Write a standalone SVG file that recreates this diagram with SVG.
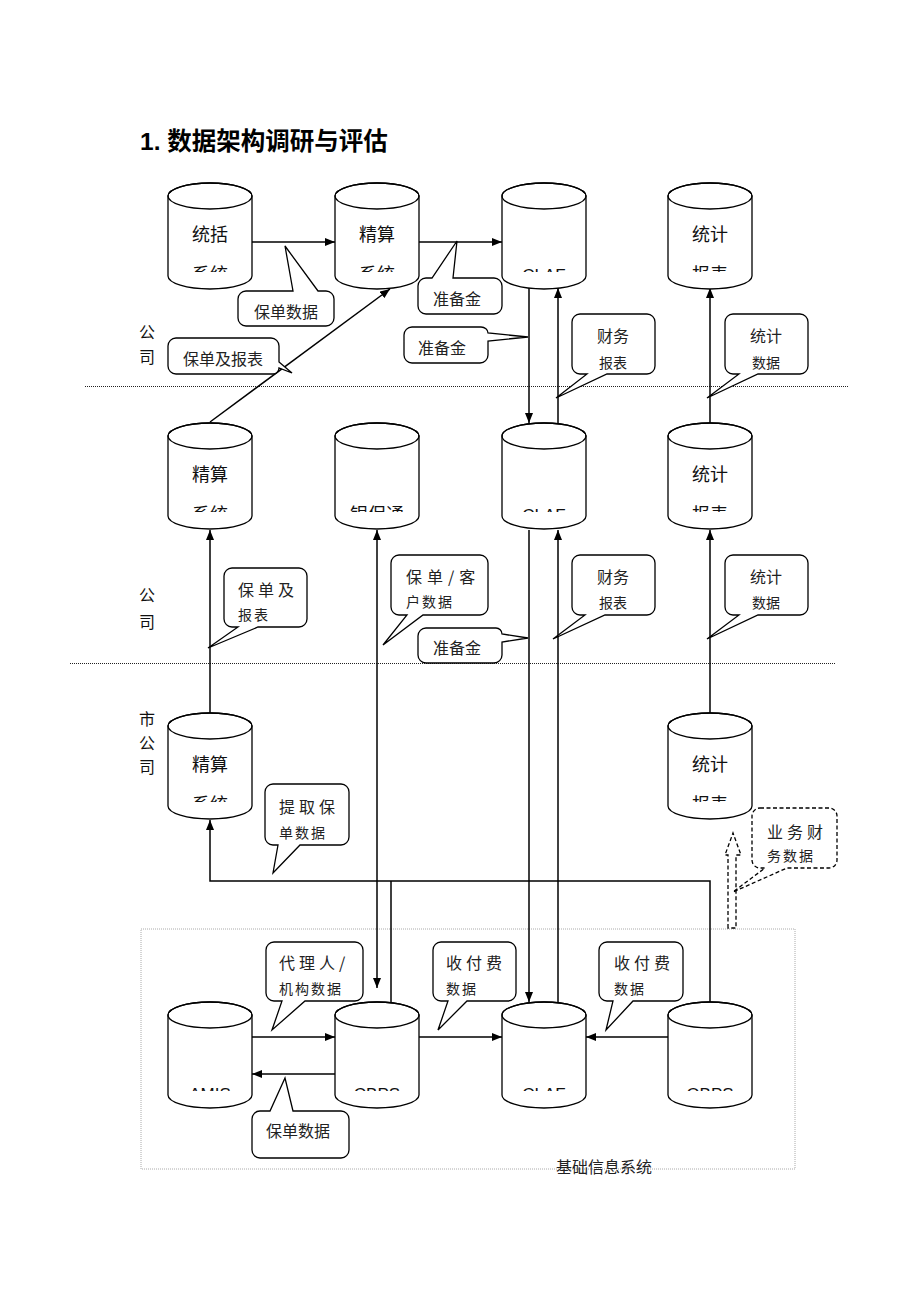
<svg xmlns="http://www.w3.org/2000/svg" width="920" height="1302" viewBox="0 0 920 1302">
<style>
.cyl{fill:#fff;stroke:#000;stroke-width:1.3}
.ctop{fill:none;stroke:#000;stroke-width:1.3}
.nt{font-family:"Noto Sans CJK SC","Liberation Sans",sans-serif;font-size:18px;fill:#111;text-anchor:middle}
.nl{font-family:"Liberation Sans","Noto Sans CJK SC",sans-serif;font-size:17px;fill:#111;text-anchor:middle}
.conn{fill:none;stroke:#000;stroke-width:1.5}
.call{fill:#fff;stroke:#000;stroke-width:1.3}
.calld{fill:#fff;stroke:#000;stroke-width:1.3;stroke-dasharray:4 2.5}
.ct{font-family:"Noto Sans CJK SC",sans-serif;font-size:16px;fill:#222}
.cs{font-family:"Noto Sans CJK SC",sans-serif;font-size:14px;fill:#222}
.mid{text-anchor:middle}
.sp{letter-spacing:4px}
.sp2{letter-spacing:2px}
.side{font-family:"Noto Sans CJK SC",sans-serif;font-size:16px;fill:#111;text-anchor:middle}
.dot{stroke:#222;stroke-width:1;stroke-dasharray:1 1;fill:none}
</style>
<defs>
<marker id="ah" viewBox="0 0 10 8" refX="10" refY="4" markerWidth="10" markerHeight="8" markerUnits="userSpaceOnUse" orient="auto-start-reverse"><path d="M0,0 L10,4 L0,8 Z" fill="#000"/></marker>
<clipPath id="cc" clipPathUnits="userSpaceOnUse"><rect x="-10" y="0" width="110" height="89"/></clipPath>
<g id="cyl"><path class="cyl" d="M0,13 V93 A42,13 0 0 0 84,93 V13 A42,13 0 0 0 0,13 Z"/><ellipse class="ctop" cx="42" cy="13" rx="42" ry="13"/></g>
</defs>
<rect width="920" height="1302" fill="#fff"/>
<text x="140" y="150" font-family="'Liberation Sans','Noto Sans CJK SC',sans-serif" font-size="24.5" font-weight="bold" fill="#000">1. 数据架构调研与评估</text>

<g id="dividers">
<line class="dot" x1="85" y1="386.5" x2="848" y2="386.5"/>
<line class="dot" x1="70" y1="663.5" x2="835" y2="663.5"/>
<rect x="141" y="929" width="654" height="240" fill="none" stroke="#aaa" stroke-width="1" stroke-dasharray="1 1"/>
</g>

<g id="side-labels">
<text class="side" x="147" y="338">公</text><text class="side" x="147" y="363">司</text>
<text class="side" x="147" y="601">公</text><text class="side" x="147" y="628">司</text>
<text class="side" x="147" y="725">市</text><text class="side" x="147" y="749">公</text><text class="side" x="147" y="773">司</text>
<text x="604" y="1173" font-family="'Noto Sans CJK SC',sans-serif" font-size="16" fill="#222" text-anchor="middle">基础信息系统</text>
</g>

<g id="connectors">
<path class="conn" d="M252,242 H335" marker-end="url(#ah)"/>
<path class="conn" d="M419,242 H502" marker-end="url(#ah)"/>
<path class="conn" d="M210,422 L390,289" marker-end="url(#ah)"/>
<path class="conn" d="M529,288 V423" marker-end="url(#ah)"/>
<path class="conn" d="M558,423 V288" marker-end="url(#ah)"/>
<path class="conn" d="M710,423 V288" marker-end="url(#ah)"/>
<path class="conn" d="M210,713 V530" marker-end="url(#ah)"/>
<path class="conn" d="M377,988 V530" marker-start="url(#ah)" marker-end="url(#ah)"/>
<path class="conn" d="M529,530 V1002" marker-end="url(#ah)"/>
<path class="conn" d="M558,1002 V530" marker-end="url(#ah)"/>
<path class="conn" d="M710,713 V530" marker-end="url(#ah)"/>
<path class="conn" d="M391,1002 V881"/>
<path class="conn" d="M710,1002 V881 H210 V820" marker-end="url(#ah)"/>
<path class="conn" d="M252,1037 H335" marker-end="url(#ah)"/>
<path class="conn" d="M335,1074 H252" marker-end="url(#ah)"/>
<path class="conn" d="M419,1037 H502" marker-end="url(#ah)"/>
<path class="conn" d="M668,1037 H586" marker-end="url(#ah)"/>
<path fill="none" stroke="#000" stroke-width="1.3" stroke-dasharray="4 2.5" d="M728,928 V855 H725 L733,833 L741,855 H736 V928 Z"/>
</g>

<g id="n-tongkuo" transform="translate(168,183)"><use href="#cyl"/><text class="nt" x="42" y="58">统括</text><text class="nt" x="42" y="98" font-size="16" clip-path="url(#cc)">系统</text></g>
<g id="n-jingsuan1" transform="translate(335,183)"><use href="#cyl"/><text class="nt" x="42" y="58">精算</text><text class="nt" x="42" y="98" font-size="16" clip-path="url(#cc)">系统</text></g>
<g id="n-claf1" transform="translate(502,183)"><use href="#cyl"/><text class="nl" x="42" y="98" clip-path="url(#cc)">CLAF</text></g>
<g id="n-tongji1" transform="translate(668,183)"><use href="#cyl"/><text class="nt" x="42" y="58">统计</text><text class="nt" x="42" y="98" font-size="16" clip-path="url(#cc)">报表</text></g>

<g id="n-jingsuan2" transform="translate(168,423)"><use href="#cyl"/><text class="nt" x="42" y="58">精算</text><text class="nt" x="42" y="98" font-size="16" clip-path="url(#cc)">系统</text></g>
<g id="n-yinbaotong" transform="translate(335,423)"><use href="#cyl"/><text class="nt" x="42" y="98" font-size="16" clip-path="url(#cc)">银保通</text></g>
<g id="n-claf2" transform="translate(502,423)"><use href="#cyl"/><text class="nl" x="42" y="98" clip-path="url(#cc)">CLAF</text></g>
<g id="n-tongji2" transform="translate(668,423)"><use href="#cyl"/><text class="nt" x="42" y="58">统计</text><text class="nt" x="42" y="98" font-size="16" clip-path="url(#cc)">报表</text></g>

<g id="n-jingsuan3" transform="translate(168,713)"><use href="#cyl"/><text class="nt" x="42" y="58">精算</text><text class="nt" x="42" y="98" font-size="16" clip-path="url(#cc)">系统</text></g>
<g id="n-tongji3" transform="translate(668,713)"><use href="#cyl"/><text class="nt" x="42" y="58">统计</text><text class="nt" x="42" y="98" font-size="16" clip-path="url(#cc)">报表</text></g>

<g id="n-amis" transform="translate(168,1002)"><use href="#cyl"/><text class="nl" x="42" y="98" clip-path="url(#cc)">AMIS</text></g>
<g id="n-cbps" transform="translate(335,1002)"><use href="#cyl"/><text class="nl" x="42" y="98" clip-path="url(#cc)">CBPS</text></g>
<g id="n-claf3" transform="translate(502,1002)"><use href="#cyl"/><text class="nl" x="42" y="98" clip-path="url(#cc)">CLAF</text></g>
<g id="n-obps" transform="translate(668,1002)"><use href="#cyl"/><text class="nl" x="42" y="98" clip-path="url(#cc)">OBPS</text></g>

<g id="cl-1"><path class="call" d="M246,291 H293 L285,246 L318,291 H326 A8,8 0 0 1 334,299 V318 A8,8 0 0 1 326,326 H246 A8,8 0 0 1 238,318 V299 A8,8 0 0 1 246,291 Z"/><text class="ct mid" x="286" y="318">保单数据</text></g>
<g id="cl-2"><path class="call" d="M426,278 H432 L457,241 L453,278 H494 A8,8 0 0 1 502,286 V306 A8,8 0 0 1 494,314 H426 A8,8 0 0 1 418,306 V286 A8,8 0 0 1 426,278 Z"/><text class="ct mid" x="457" y="305">准备金</text></g>
<g id="cl-3"><path class="call" d="M412,327 H481 A7,6 0 0 1 488,333 L528,337 L488,341 V355 A8,8 0 0 1 480,363 H412 A8,8 0 0 1 404,355 V335 A8,8 0 0 1 412,327 Z"/><text class="ct mid" x="442" y="354">准备金</text></g>
<g id="cl-4"><path class="call" d="M176,338 H271 A8,8 0 0 1 279,346 V362 L292,373 L279,368 A6,6 0 0 1 273,374 H176 A8,8 0 0 1 168,366 V346 A8,8 0 0 1 176,338 Z"/><text class="ct mid" x="223" y="365">保单及报表</text></g>
<g id="cl-5"><path class="call" d="M580,314 H647 A8,8 0 0 1 655,322 V366 A8,8 0 0 1 647,374 H607 L556,398 L587,374 H580 A8,8 0 0 1 572,366 V322 A8,8 0 0 1 580,314 Z"/><text class="ct mid" x="613" y="342">财务</text><text class="cs mid" x="613" y="368">报表</text></g>
<g id="cl-6"><path class="call" d="M733,314 H800 A8,8 0 0 1 808,322 V366 A8,8 0 0 1 800,374 H758 L707,398 L739,374 H733 A8,8 0 0 1 725,366 V322 A8,8 0 0 1 733,314 Z"/><text class="ct mid" x="766" y="342">统计</text><text class="cs mid" x="766" y="368">数据</text></g>
<g id="cl-7"><path class="call" d="M232,568 H299 A8,8 0 0 1 307,576 V619 A8,8 0 0 1 299,627 H258 L208,648 L238,627 H232 A8,8 0 0 1 224,619 V576 A8,8 0 0 1 232,568 Z"/><text class="ct sp" x="238" y="596">保单及</text><text class="cs sp2" x="238" y="620">报表</text></g>
<g id="cl-8"><path class="call" d="M399,555 H480 A8,8 0 0 1 488,563 V607 A8,8 0 0 1 480,615 H423 L383,645 L407,615 H399 A8,8 0 0 1 391,607 V563 A8,8 0 0 1 399,555 Z"/><text class="ct" x="406" y="583" letter-spacing="5">保单/客</text><text class="cs sp2" x="406" y="607">户数据</text></g>
<g id="cl-9"><path class="call" d="M426,628 H496 A6,6 0 0 1 502,634 L528,638 L502,642 V655 A8,8 0 0 1 494,663 H426 A8,8 0 0 1 418,655 V636 A8,8 0 0 1 426,628 Z"/><text class="ct mid" x="457" y="654">准备金</text></g>
<g id="cl-10"><path class="call" d="M580,555 H647 A8,8 0 0 1 655,563 V607 A8,8 0 0 1 647,615 H605 L553,639 L585,615 H580 A8,8 0 0 1 572,607 V563 A8,8 0 0 1 580,555 Z"/><text class="ct mid" x="613" y="583">财务</text><text class="cs mid" x="613" y="608">报表</text></g>
<g id="cl-11"><path class="call" d="M733,555 H800 A8,8 0 0 1 808,563 V607 A8,8 0 0 1 800,615 H758 L707,639 L739,615 H733 A8,8 0 0 1 725,607 V563 A8,8 0 0 1 733,555 Z"/><text class="ct mid" x="766" y="583">统计</text><text class="cs mid" x="766" y="608">数据</text></g>
<g id="cl-12"><path class="call" d="M273,784 H341 A8,8 0 0 1 349,792 V837 A8,8 0 0 1 341,845 H300 L273,873 L278,845 H273 A8,8 0 0 1 265,837 V792 A8,8 0 0 1 273,784 Z"/><text class="ct sp" x="279" y="813">提取保</text><text class="cs sp2" x="279" y="838">单数据</text></g>
<g id="cl-13"><path class="calld" d="M760,808 H829 A8,8 0 0 1 837,816 V860 A8,8 0 0 1 829,868 H787 L733,892 L765,868 H760 A8,8 0 0 1 752,860 V816 A8,8 0 0 1 760,808 Z"/><text class="ct sp" x="767" y="838">业务财</text><text class="cs sp2" x="767" y="861">务数据</text></g>
<g id="cl-14"><path class="call" d="M274,942 H355 A8,8 0 0 1 363,950 V993 A8,8 0 0 1 355,1001 H305 L272,1030 L282,1001 H274 A8,8 0 0 1 266,993 V950 A8,8 0 0 1 274,942 Z"/><text class="ct sp" x="279" y="969">代理人/</text><text class="cs sp2" x="279" y="994">机构数据</text></g>
<g id="cl-15"><path class="call" d="M441,942 H508 A8,8 0 0 1 516,950 V993 A8,8 0 0 1 508,1001 H467 L438,1030 L448,1001 H441 A8,8 0 0 1 433,993 V950 A8,8 0 0 1 441,942 Z"/><text class="ct sp" x="446" y="969">收付费</text><text class="cs sp2" x="446" y="994">数据</text></g>
<g id="cl-16"><path class="call" d="M607,942 H675 A8,8 0 0 1 683,950 V993 A8,8 0 0 1 675,1001 H633 L606,1030 L613,1001 H607 A8,8 0 0 1 599,993 V950 A8,8 0 0 1 607,942 Z"/><text class="ct sp" x="614" y="969">收付费</text><text class="cs sp2" x="614" y="994">数据</text></g>
<g id="cl-17"><path class="call" d="M260,1111 H270 L285,1078 L293,1111 H341 A8,8 0 0 1 349,1119 V1150 A8,8 0 0 1 341,1158 H260 A8,8 0 0 1 252,1150 V1119 A8,8 0 0 1 260,1111 Z"/><text class="ct mid" x="298" y="1137">保单数据</text></g>
</svg>
